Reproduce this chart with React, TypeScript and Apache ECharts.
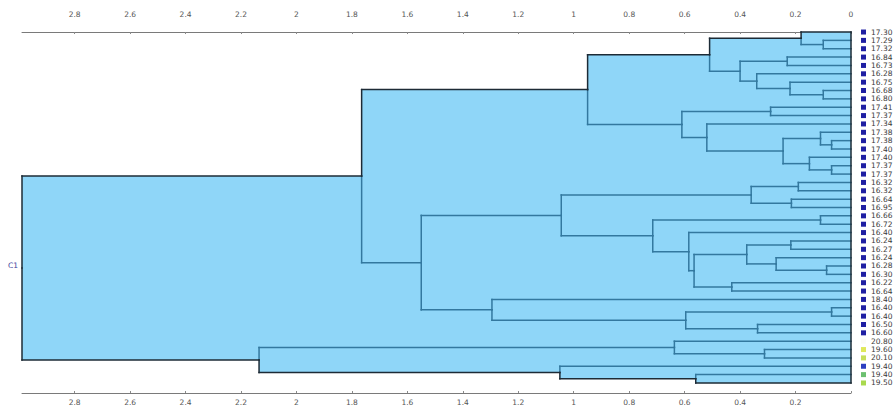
import React, { useEffect, useRef } from "react";
import * as echarts from "echarts";

// Leaf labels (top to bottom)
const leafLabels = [
  "17.30", "17.29", "17.32", "16.84", "16.73", "16.28", "16.75", "16.68", "16.80",
  "17.41", "17.37", "17.34", "17.38", "17.38", "17.40", "17.40", "17.37", "17.37",
  "16.32", "16.32", "16.64", "16.95", "16.66", "16.72", "16.40", "16.24", "16.27",
  "16.24", "16.28", "16.30", "16.22", "16.64", "18.40", "16.40", "16.40", "16.50",
  "16.60", "20.80", "19.60", "20.10", "19.40", "19.40", "19.50",
];

const leafColors = [
  "#1f1fa3", "#1f1fa3", "#1f1fa3", "#1f1fa3", "#1f1fa3", "#1f1fa3", "#1f1fa3", "#1f1fa3", "#1f1fa3",
  "#1f1fa3", "#1f1fa3", "#1f1fa3", "#1f1fa3", "#1f1fa3", "#1f1fa3", "#1f1fa3", "#1f1fa3", "#1f1fa3",
  "#1f1fa3", "#1f1fa3", "#1f1fa3", "#1f1fa3", "#1f1fa3", "#1f1fa3", "#1f1fa3", "#1f1fa3", "#1f1fa3",
  "#1f1fa3", "#1f1fa3", "#1f1fa3", "#1f1fa3", "#1f1fa3", "#1f1fa3", "#1f1fa3", "#1f1fa3", "#1f1fa3",
  "#1f1fa3", "#fbfbf6", "#dfe85a", "#c5df5c", "#2c3fc0", "#6cc070", "#a9d94e",
];

// Linkage: merge k creates node id (leafCount + k) from mergeA[k] and mergeB[k]
const mergeA = [1, 0, 3, 7, 6, 5, 45, 44, 9, 13, 12, 16, 15, 53, 11, 51, 50, 18, 20, 60, 22, 25, 28, 27, 64, 30, 67, 24, 63, 62, 33, 35, 73, 32, 72, 59, 38, 37, 41, 40, 80, 78];
const mergeB = [2, 43, 4, 8, 46, 47, 48, 49, 10, 14, 52, 17, 54, 55, 56, 57, 58, 19, 21, 61, 23, 26, 29, 65, 66, 31, 68, 69, 70, 71, 34, 36, 74, 75, 76, 77, 39, 79, 42, 81, 82, 83];
const mergeHeight = [
  0.10, 0.18, 0.23, 0.10, 0.22, 0.34, 0.40, 0.51, 0.29, 0.07,
  0.11, 0.07, 0.15, 0.245, 0.52, 0.61, 0.95, 0.19, 0.215, 0.36,
  0.11, 0.217, 0.088, 0.27, 0.376, 0.43, 0.566, 0.585, 0.715, 1.045,
  0.07, 0.337, 0.596, 1.295, 1.55, 1.765, 0.312, 0.637, 0.56, 1.05,
  2.135, 2.99,
];

const clusterLabel = "C1";
const tickStep = 0.2;

// ---- derived tree geometry (data units) ----
const N = leafLabels.length;
const nodeH: number[] = [];
const nodeY: number[] = [];
for (let i = 0; i < N; i++) { nodeH.push(0); nodeY.push(i); }
mergeA.forEach((a, k) => {
  const b = mergeB[k];
  nodeH.push(mergeHeight[k]);
  nodeY.push((nodeY[a] + nodeY[b]) / 2);
});
const rootId = nodeH.length - 1;
const rootH = nodeH[rootId];

const topSpine = new Set<number>();
const bottomSpine = new Set<number>();
{
  let n = rootId;
  while (n >= N) { topSpine.add(n); n = mergeA[n - N]; }
  topSpine.add(n);
  n = rootId;
  while (n >= N) { bottomSpine.add(n); n = mergeB[n - N]; }
  bottomSpine.add(n);
}

const fillData: number[][] = mergeA.map((a, k) => [mergeHeight[k], nodeY[a], nodeY[mergeB[k]]]);

const segData: number[][] = [];
mergeA.forEach((a, k) => {
  const b = mergeB[k];
  const id = N + k;
  const h = mergeHeight[k];
  const isRoot = id === rootId;
  // vertical: upper half and lower half
  const upOuter = isRoot || topSpine.has(id);
  const lowOuter = isRoot || bottomSpine.has(id);
  segData.push([h, nodeY[a], h, nodeY[id], upOuter ? 1 : 0]);
  segData.push([h, nodeY[id], h, nodeY[b], lowOuter ? 1 : 0]);
  // horizontals
  segData.push([h, nodeY[a], nodeH[a], nodeY[a], topSpine.has(a) && topSpine.has(id) ? 1 : 0]);
  segData.push([h, nodeY[b], nodeH[b], nodeY[b], bottomSpine.has(b) && bottomSpine.has(id) ? 1 : 0]);
});
segData.push([0, 0, 0, N - 1, 1]);
segData.sort((p, q) => p[4] - q[4]);

const leafData: number[][] = leafLabels.map((_, i) => [0, i]);

const FONT = "'DejaVu Sans', Verdana, sans-serif";

export default function App() {
  const ref = useRef<HTMLDivElement>(null);
  useEffect(() => {
    if (!ref.current) return;
    const chart = echarts.init(ref.current, undefined, { renderer: "svg" });
    const axisCommon = {
      type: "value" as const,
      inverse: true,
      min: 0,
      max: rootH,
      interval: tickStep,
      splitLine: { show: false },
      axisLine: { show: true, lineStyle: { color: "#7a7a7a", width: 1 } },
      axisTick: { show: true, inside: true, length: 2, lineStyle: { color: "#8a8a8a" } },
    };
    chart.setOption({
      animation: false,
      backgroundColor: "#ffffff",
      grid: { left: 22, right: 44, top: 22, bottom: 18 },
      xAxis: [
        {
          ...axisCommon,
          position: "top",
          axisLabel: {
            show: true, color: "#555", fontSize: 7.5, fontFamily: FONT, margin: 4,
            showMaxLabel: false,
          },
        },
        {
          ...axisCommon,
          position: "bottom",
          axisLabel: {
            show: true, color: "#555", fontSize: 7.5, fontFamily: FONT, margin: 5,
            showMaxLabel: false,
            formatter: (v: number) => (v === 0 ? "" : String(v)),
          },
        },
      ],
      yAxis: {
        type: "value", inverse: true, min: -1.2, max: 43.2, show: false,
        splitLine: { show: false },
      },
      series: [
        {
          type: "custom", xAxisIndex: 0, yAxisIndex: 0, silent: true, clip: false, z: 1,
          data: fillData,
          encode: { x: 0, y: [1, 2] },
          renderItem: (params: any, api: any) => {
            const p1 = api.coord([api.value(0), api.value(1)]);
            const p2 = api.coord([0, api.value(2)]);
            return {
              type: "rect",
              shape: { x: p1[0], y: p1[1], width: p2[0] - p1[0], height: p2[1] - p1[1] },
              style: { fill: "#8fd6f8", stroke: "none" },
            };
          },
        },
        {
          type: "custom", xAxisIndex: 0, yAxisIndex: 0, silent: true, clip: false, z: 2,
          data: segData,
          encode: { x: [0, 2], y: [1, 3] },
          renderItem: (params: any, api: any) => {
            const p1 = api.coord([api.value(0), api.value(1)]);
            const p2 = api.coord([api.value(2), api.value(3)]);
            const outer = api.value(4) === 1;
            return {
              type: "line",
              shape: { x1: p1[0], y1: p1[1], x2: p2[0], y2: p2[1] },
              style: { stroke: outer ? "#1d2b36" : "#33789f", lineWidth: 1.5, lineCap: "square" },
            };
          },
        },
        {
          type: "custom", xAxisIndex: 0, yAxisIndex: 0, silent: true, clip: false, z: 3,
          data: leafData,
          encode: { x: 0, y: 1 },
          renderItem: (params: any, api: any) => {
            const i = params.dataIndex;
            const p = api.coord([api.value(0), api.value(1)]);
            return {
              type: "group",
              children: [
                {
                  type: "rect",
                  shape: { x: p[0] + 10, y: p[1] - 2.5, width: 5, height: 5 },
                  style: { fill: leafColors[i] },
                },
                {
                  type: "text",
                  style: {
                    text: leafLabels[i], x: p[0] + 20, y: p[1],
                    fill: "#3a3a3a", fontSize: 7.5, fontFamily: FONT,
                    align: "left", verticalAlign: "middle",
                  },
                },
              ],
            };
          },
        },
        {
          type: "custom", xAxisIndex: 0, yAxisIndex: 0, silent: true, clip: false, z: 3,
          data: [[rootH, nodeY[rootId]]],
          encode: { x: 0, y: 1 },
          renderItem: (params: any, api: any) => {
            const p = api.coord([api.value(0), api.value(1)]);
            return {
              type: "text",
              style: {
                text: clusterLabel, x: p[0] - 4, y: p[1] - 3,
                fill: "#3c3c9c", fontSize: 7.5, fontFamily: FONT,
                align: "right", verticalAlign: "middle",
              },
            };
          },
        },
      ],
    });
    return () => chart.dispose();
  }, []);
  return (
    <div
      ref={ref}
      style={{ position: "absolute", left: 0, top: 0, width: 895, height: 411, background: "#fff" }}
    />
  );
}
